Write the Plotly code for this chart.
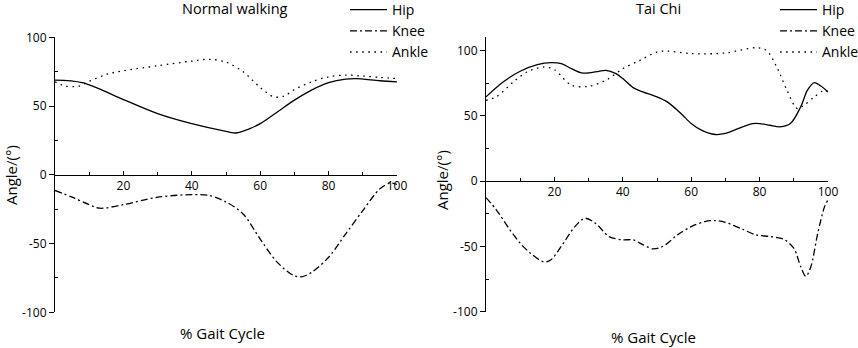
import plotly.graph_objects as go

# ---------------- data ----------------
nw_hip_x = [0, 8, 20, 30, 40, 50, 53, 57, 60, 65, 70, 75, 80, 85, 88, 95, 100]
nw_hip_y = [68.9, 67, 54.7, 44.5, 37.2, 31.6, 30.4, 33.6, 37.2, 45.7, 54.3, 61.6, 67, 69.6, 70, 68.4, 67.6]

nw_knee_x = [0, 5, 10, 13, 20, 30, 40, 45, 50, 55, 60, 65, 70, 72, 75, 80, 85, 90, 95, 98, 100]
nw_knee_y = [-11.4, -16.3, -21.7, -24.3, -21.7, -16.3, -14.4, -15, -19.7, -28.5, -46.7, -63.7, -73.5, -74.2, -71, -60, -43, -26, -10.2, -6, -7]

nw_ankle_x = [0, 3, 7, 10, 15, 20, 30, 40, 45, 50, 55, 60, 64, 67, 70, 75, 80, 85, 90, 95, 100]
nw_ankle_y = [67.6, 64.5, 64.5, 68, 73, 75.7, 79.3, 82.7, 84, 82, 75, 63.5, 56.7, 57.2, 62, 67.6, 71.3, 72.5, 71.8, 70.8, 70]

tc_hip_x = [0, 5, 10, 15, 19, 22, 25, 28, 30, 33, 35, 38, 40, 43, 45, 50, 53, 57, 60, 63, 67, 70, 75, 78, 80, 83, 86, 89, 92, 94, 96, 98, 100]
tc_hip_y = [64.4, 75.8, 84, 89, 90.6, 89.8, 86, 82.7, 82.7, 84, 84.7, 82.2, 78.4, 71.5, 69, 64.4, 60.6, 51.7, 44, 38.9, 35.6, 36.4, 41.5, 44, 44, 42.7, 41.5, 44, 56.7, 69.5, 75.3, 72.5, 68.2]

tc_knee_x = [0, 3, 7, 10, 13, 17, 19, 22, 26, 29, 32, 36, 40, 43, 46, 49, 52, 56, 60, 64, 67, 70, 75, 79, 83, 87, 90, 92, 93.5, 95, 97, 99, 100]
tc_knee_y = [-12.7, -22, -37.4, -47.6, -55.2, -62, -60.3, -50, -34.9, -28.5, -32.3, -42.5, -45, -45, -48.9, -51.9, -49.6, -41.2, -34.9, -31, -30.3, -31.6, -36.9, -41.2, -42.5, -44.5, -51.4, -65.4, -73, -65.4, -40, -19.6, -14.5]

tc_ankle_x = [0, 3, 8, 12, 17, 20, 25, 30, 35, 40, 45, 50, 53, 60, 70, 79, 82, 85, 88, 91, 93, 96, 99, 100]
tc_ankle_y = [61.8, 64.4, 75.8, 83.5, 87.3, 85.2, 73.3, 72.5, 77, 86, 92.4, 98.7, 99.5, 97.5, 98, 102, 100, 87.3, 69.5, 55.5, 58, 64.4, 69.5, 68.2]

x_tickvals = [20, 40, 60, 80, 100]
x_minor = [10, 30, 50, 70, 90]
y_tickvals = [-100, -50, 0, 50, 100]
y_ticktext = ["-100", "-50", "0", "50", "100"]
y_minor = [-75, -25, 25, 75]

titles = ["Normal walking", "Tai Chi"]
series_names = ["Hip", "Knee", "Ankle"]

# ---------------- styling ----------------
FONT = "Open Sans"
W, H = 858, 348
LW = 1.3
dashes = ["solid", "7px,3px,2px,3px", "1.6px,4.5px"]

fig = go.Figure()

panels = [
    dict(xs=[nw_hip_x, nw_knee_x, nw_ankle_x], ys=[nw_hip_y, nw_knee_y, nw_ankle_y],
         xa="x", ya="y", legend="legend"),
    dict(xs=[tc_hip_x, tc_knee_x, tc_ankle_x], ys=[tc_hip_y, tc_knee_y, tc_ankle_y],
         xa="x2", ya="y2", legend="legend2"),
]

for p in panels:
    for name, xs, ys, dash in zip(series_names, p["xs"], p["ys"], dashes):
        fig.add_trace(go.Scatter(
            x=xs, y=ys, name=name, mode="lines",
            line=dict(color="black", width=LW, dash=dash, shape="spline", smoothing=0.9),
            xaxis=p["xa"], yaxis=p["ya"], legend=p["legend"],
        ))

# domains in paper coords (pixels / size)
xd1 = [55 / W, 397 / W]
xd2 = [486 / W, 828 / W]
yd1 = [1 - 312.3 / H, 1 - 37.3 / H]
yd2 = [1 - 311.7 / H, 1 - 37.3 / H]
yr1 = [-100, 100]
yr2 = [-100, 110]


def zero_pos(dom, rng):
    return dom[0] + (0 - rng[0]) / (rng[1] - rng[0]) * (dom[1] - dom[0])


tickfont = dict(family=FONT, size=12, color="black")

def xaxis(dom, pos):
    return dict(domain=dom, range=[0, 100], anchor="free", position=pos,
                showline=True, linecolor="black", linewidth=1.1,
                ticks="inside", ticklen=4, tickwidth=1, tickcolor="black",
                tickmode="array", tickvals=x_tickvals, ticktext=[str(v) for v in x_tickvals],
                minor=dict(ticks="inside", ticklen=2.5, tickwidth=1, tickcolor="black",
                           tickmode="array", tickvals=x_minor),
                ticklabelstandoff=0, automargin=False,
                showgrid=False, zeroline=False, tickfont=tickfont, fixedrange=True)


def yaxis(dom, rng, anchor):
    return dict(domain=dom, range=rng, anchor=anchor,
                showline=True, linecolor="black", linewidth=1.1,
                ticks="outside", ticklen=5, tickwidth=1, tickcolor="black",
                tickmode="array", tickvals=y_tickvals, ticktext=y_ticktext,
                minor=dict(ticks="inside", ticklen=3, tickwidth=1, tickcolor="black",
                           tickmode="array", tickvals=y_minor),
                automargin=False,
                showgrid=False, zeroline=False, tickfont=tickfont, fixedrange=True)


legend_common = dict(font=dict(family=FONT, size=14, color="black"),
                     bgcolor="rgba(0,0,0,0)", borderwidth=0, itemwidth=37,
                     tracegroupgap=0, yanchor="top", xanchor="left", y=1 + 6 / H,
                     itemclick=False, itemdoubleclick=False)

fig.update_layout(
    width=W, height=H,
    margin=dict(l=0, r=0, t=0, b=0, autoexpand=False),
    paper_bgcolor="white", plot_bgcolor="white",
    font=dict(family=FONT, color="black"),
    xaxis=xaxis(xd1, zero_pos(yd1, yr1)),
    yaxis=yaxis(yd1, yr1, "x"),
    xaxis2=xaxis(xd2, zero_pos(yd2, yr2)),
    yaxis2=yaxis(yd2, yr2, "x2"),
    legend=dict(x=345 / W, **legend_common),
    legend2=dict(x=775 / W, **legend_common),
    showlegend=True,
)

annos = [
    dict(text=titles[0], x=235 / W, y=1 - 9 / H, size=14.5, angle=0),
    dict(text=titles[1], x=658 / W, y=1 - 9 / H, size=14.5, angle=0),
    dict(text="% Gait Cycle", x=222 / W, y=1 - 333 / H, size=15, angle=0),
    dict(text="% Gait Cycle", x=653 / W, y=1 - 337 / H, size=15, angle=0),
    dict(text="Angle/(°)", x=11 / W, y=1 - 175 / H, size=15, angle=-90),
    dict(text="Angle/(°)", x=442 / W, y=1 - 180 / H, size=15, angle=-90),
]
for a in annos:
    fig.add_annotation(text=a["text"], x=a["x"], y=a["y"], xref="paper", yref="paper",
                       xanchor="center", yanchor="middle", showarrow=False,
                       textangle=a["angle"], font=dict(family=FONT, size=a["size"], color="black"))

fig.write_html("out.html", config={"displayModeBar": False},
               post_script="document.body.style.margin='0';")
